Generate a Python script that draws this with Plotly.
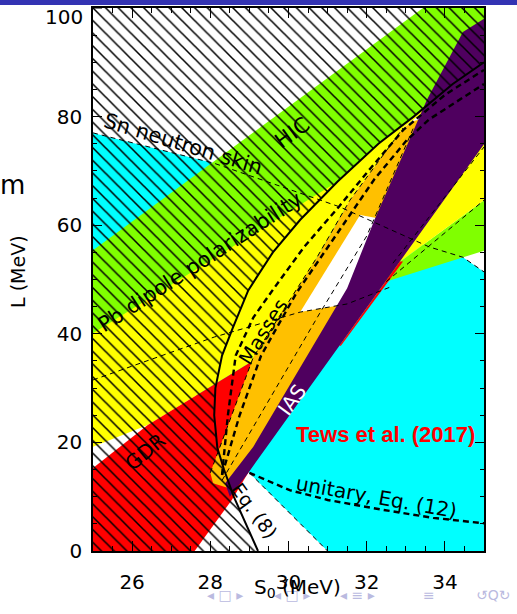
import plotly.graph_objects as go

# ---- constraint regions in the (S0, L) plane, vertices in MeV ----
sn_skin = [(25, 77), (28.1, 71.4), (31.3, 63.4), (33.6, 56), (34.46, 54.1), (35, 51.4),
           (35, 0), (31, 0), (29.0, 14.4), (28.5, 20), (27, 35), (25, 45)]
pb_dipole = [(25, 19.2), (26.4, 23.2), (29.2, 35.5), (30.73, 54.1), (31.57, 64.6),
             (32.93, 77.9), (34.0, 84), (33.6, 88), (25, 55)]
hic_right = [(32.4, 49.4), (35, 55.3), (35, 64.6), (32.67, 52.3)]
pb_right = [(32.67, 52.3), (35, 75.1), (35, 64.6)]
gdr = [(25, 0), (27.6, 0), (28.55, 9.4), (29.6, 22), (29.2, 35.5), (26.4, 23.2), (25, 15.3)]
gdr_edge = [(31.3, 37.8), (32.85, 53.3), (32.93, 53.3), (31.34, 37.8)]
masses = [(28.07, 12.5), (28.0, 14.4), (29.1, 35.7), (30.73, 54.1), (31.57, 64.6), (32.93, 77.9),
          (33.2, 79.2), (33.7, 80), (31.4, 45), (29.35, 20), (28.5, 11.5)]
consensus = [(30.3, 44.0), (31.83, 61.9), (32.5, 61), (31.5, 45.5)]
ias = [(28.38, 12.5), (28.5, 10), (28.95, 14.2), (35, 74.9), (35, 98), (34.46, 95.6),
       (33.54, 83.1), (32.2, 61), (31.5, 48.4), (29.1, 19.2)]

# unitary-gas lower bound, Eq. (8): S0 as a function of L
ug_L = [0, 5, 10, 15, 19, 25, 30, 36, 41, 48, 55, 61, 68, 75, 80, 86, 90]
ug_S = [29.22, 28.9, 28.6, 28.35, 28.18, 28.1, 28.13, 28.3, 28.57, 28.97, 29.6, 30.3,
        31.25, 32.3, 33.2, 34.2, 35.0]

# HIC band: upper edge, then its lower edge runs along the Eq. (8) curve
hic_main = ([(25, 55.4), (33.44, 100), (35, 100)]
            + [(s, l) for s, l in zip(ug_S[::-1], ug_L[::-1]) if l >= 68]
            + [(25, 40.1)])

# unitary estimate, Eq. (12)
ug12_S = [29.0, 30.03, 31.0, 32.4, 33.7, 35.0]
ug12_L = [14.4, 11.2, 9.4, 7.6, 6.1, 5.1]

# dashed band outlines
skin_top = sn_skin[:6]
skin_low = [(29.0, 14.4), (31, 0)]
pb_low = [(25, 31.5), (28.1, 39.4), (30.3, 44.0), (31.5, 45.5), (32.6, 48.6)]
masses_left = [(28.0, 14.4), (29.1, 35.7), (30.73, 54.1), (31.57, 64.6), (32.93, 77.9)]
masses_mid = [(28.3, 13), (30.8, 43.8), (32.0, 58), (33.2, 78)]
hic_right_top = [(32.5, 49.6), (35, 64.6)]
ias_right = [(32.67, 53.0), (35, 74.4)]
band_a = [(28.3, 14), (28.45, 25), (28.65, 36), (29.1, 43), (29.6, 48.1), (30.4, 56),
          (31.3, 63.5), (32.1, 70.5), (32.93, 77.5), (34.0, 84.0), (35, 88.6)]
band_b = [(28.3, 14), (28.75, 25), (29.3, 36), (30.2, 47.5), (31.2, 58), (32.2, 68.5),
          (33.03, 75.7), (33.6, 79.5), (35, 86)]

x_ticks = [26, 28, 30, 32, 34]
y_ticks = [0, 20, 40, 60, 80, 100]

fig = go.Figure()


def region(pts, color):
    xs, ys = zip(*pts)
    fig.add_trace(go.Scatter(x=xs, y=ys, fill="toself", fillcolor=color, mode="lines",
                             line=dict(width=0), hoverinfo="skip"))


def outline(pts, width=1, dash="5px,4px"):
    xs, ys = zip(*pts)
    fig.add_trace(go.Scatter(x=xs, y=ys, mode="lines",
                             line=dict(color="black", width=width, dash=dash),
                             hoverinfo="skip"))


region(sn_skin, "#00ffff")
region(pb_dipole, "#ffff00")
region(hic_main, "#80ff00")
region(hic_right, "#80ff00")
region(pb_right, "#ffff00")
region(gdr, "#ff0000")
region(masses, "#ffc000")
region(consensus, "#ffffff")
region(ias, "#4f005f")
region(gdr_edge, "#ff0000")

# excluded side of the unitary-gas bound, hatched
hatch = [(25, 0)] + list(zip(ug_S, ug_L)) + [(35, 100), (25, 100)]
hx, hy = zip(*hatch)
fig.add_trace(go.Scatter(x=hx, y=hy, fill="toself", fillcolor="rgba(0,0,0,0)", mode="lines",
                         line=dict(width=0), hoverinfo="skip",
                         fillpattern=dict(shape="\\", fgcolor="black", bgcolor="rgba(0,0,0,0)",
                                          fgopacity=1, size=9, solidity=0.17)))

for pts in (skin_top, skin_low, pb_low, masses_left, masses_mid, hic_right_top, ias_right):
    outline(pts)
outline(band_a, width=2.4, dash="6px,4px")
outline(band_b, width=2.4, dash="6px,4px")

fig.add_trace(go.Scatter(x=ug12_S, y=ug12_L, mode="lines",
                         line=dict(color="black", width=2.4, dash="6px,4px"), hoverinfo="skip"))
fig.add_trace(go.Scatter(x=ug_S, y=ug_L, mode="lines",
                         line=dict(color="black", width=2), hoverinfo="skip"))

lab_font = dict(family="DejaVu Sans", size=20, color="black")
labels = [
    ("Sn neutron skin", 27.3, 75.0, 17, "black", 21),
    ("HIC", 30.09, 77.0, -36, "black", 21),
    ("Pb dipole polarizability", 27.74, 53.2, -33, "black", 21),
    ("Masses", 29.35, 40.3, -58, "black", 20),
    ("GDR", 26.33, 18.2, -40, "black", 20),
    ("IAS", 30.09, 27.8, -54, "white", 20),
    ("unitary, Eq. (12)", 32.25, 9.9, 10, "black", 20),
    ("Eq. (8)", 29.14, 7.4, 54, "black", 19),
]
ann = []
for text, x, y, ang, col, sz in labels:
    ann.append(dict(x=x, y=y, xref="x", yref="y", text=text, showarrow=False,
                    textangle=ang, font=dict(lab_font, color=col, size=sz)))
ann.append(dict(x=32.47, y=21.4, xref="x", yref="y", text="<b>Tews et al. (2017)</b>",
                showarrow=False, font=dict(family="Liberation Sans", size=22, color="#ff0000")))

# top tick label sits just below the frame corner
ann.append(dict(x=0, y=y_ticks[-1], xref="paper", yref="y", text=str(y_ticks[-1]),
                showarrow=False, xanchor="right", xshift=-8, yshift=-9,
                font=dict(family="DejaVu Sans", size=20, color="black")))

# slide furniture: navigation symbols, axis titles, clipped side text
nav_col = "#babae0"
for text, x in [("◂ □ ▸", 0.286), ("◂ □ ▸", 0.508), ("◂ ≡ ▸", 0.726), ("≡", 0.88)]:
    ann.append(dict(x=x, y=-0.1, xref="paper", yref="paper", text=text, showarrow=False,
                    font=dict(family="DejaVu Sans", size=14, color=nav_col)))
ann.append(dict(x=0.975, y=-0.1, xref="paper", yref="paper", text="↺Q↻", showarrow=False,
                xanchor="left", font=dict(family="DejaVu Sans", size=14, color=nav_col)))
ann.append(dict(x=0.524, y=-0.096, xref="paper", yref="paper", text="S<sub>0</sub> (MeV)",
                showarrow=False, font=dict(family="DejaVu Sans", size=20, color="black")))
ann.append(dict(x=-0.225, y=0.514, xref="paper", yref="paper", text="L (MeV)", textangle=-90,
                showarrow=False, font=dict(family="DejaVu Sans", size=19, color="black")))
ann.append(dict(x=-0.243, y=0.705, xref="paper", yref="paper", text="m",
                showarrow=False, font=dict(family="DejaVu Sans", size=26, color="black")))

axis_common = dict(showline=True, linecolor="black", linewidth=1.5, mirror="allticks",
                   ticks="inside", tickcolor="black", showgrid=False, zeroline=False,
                   tickfont=dict(family="DejaVu Sans", size=20, color="black"))

fig.update_layout(
    width=517, height=614, margin=dict(l=93, r=33, t=8, b=63, autoexpand=False),
    paper_bgcolor="white", plot_bgcolor="white", showlegend=False,
    xaxis=dict(axis_common, range=[25, 35], tickvals=x_ticks, ticklen=10, ticklabelstandoff=12,
               minor=dict(dtick=0.5, tick0=25, ticklen=5, ticks="inside", tickcolor="black")),
    yaxis=dict(axis_common, range=[0, 100], tickvals=y_ticks[:-1], ticklen=9, ticklabelstandoff=5,
               minor=dict(dtick=5, tick0=0, ticklen=4, ticks="inside", tickcolor="black")),
    annotations=ann,
    shapes=[dict(type="rect", xref="paper", yref="paper", x0=-0.3, x1=1.2, y0=1.0055, y1=1.03,
                 fillcolor="#3333b3", line=dict(width=0), layer="above"),
            dict(type="line", xref="paper", yref="y", x0=0, x1=9 / 391, y0=y_ticks[-1],
                 y1=y_ticks[-1], line=dict(color="black", width=1))],
)

fig.write_html("out.html")
